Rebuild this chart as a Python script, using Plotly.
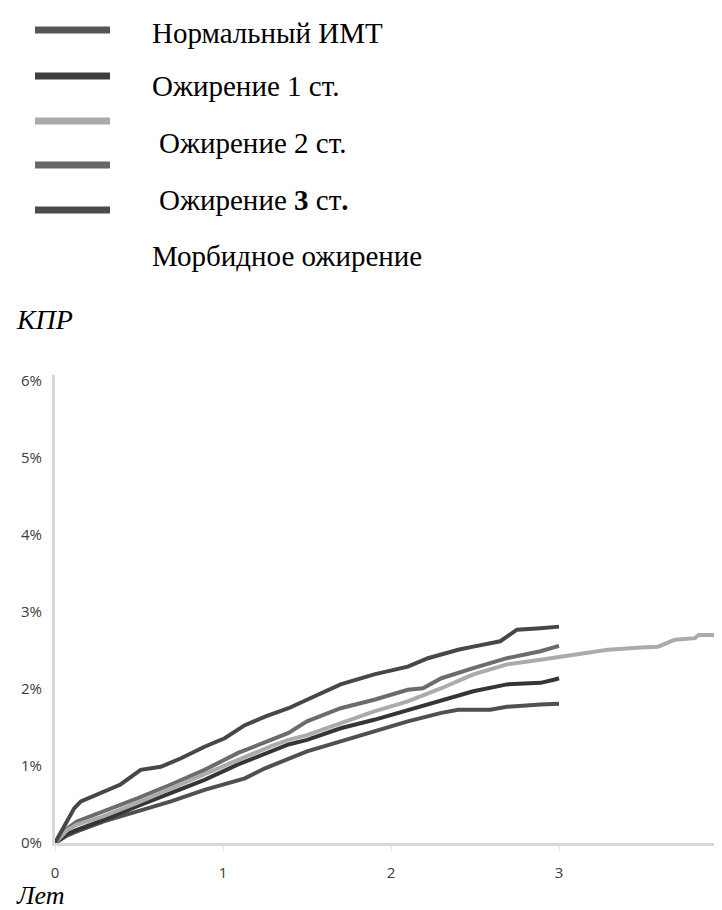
import plotly.graph_objects as go

# ---------------- data (years, cumulative incidence %) ----------------
series_names = ["Нормальный ИМТ", "Ожирение 1 ст.", "Ожирение 2 ст.", "Ожирение 3 ст.", "Морбидное ожирение"]

t_norm = [0, 0.074, 0.13, 0.29, 0.49, 0.69, 0.89, 1.01, 1.13, 1.25, 1.39, 1.50, 1.70, 1.90, 2.10, 2.30, 2.40, 2.59, 2.69, 2.89, 3.0]
p_norm = [0, 0.10, 0.15, 0.28, 0.41, 0.54, 0.69, 0.76, 0.84, 0.97, 1.10, 1.19, 1.32, 1.45, 1.58, 1.69, 1.73, 1.73, 1.77, 1.80, 1.81]

t_ob1 = [0, 0.074, 0.13, 0.29, 0.49, 0.69, 0.89, 1.09, 1.29, 1.39, 1.50, 1.70, 1.90, 2.10, 2.30, 2.49, 2.69, 2.89, 2.97, 3.0]
p_ob1 = [0, 0.12, 0.17, 0.30, 0.48, 0.65, 0.82, 1.02, 1.19, 1.28, 1.34, 1.49, 1.60, 1.73, 1.86, 1.97, 2.06, 2.08, 2.12, 2.14]

t_ob2 = [0, 0.074, 0.13, 0.29, 0.49, 0.69, 0.89, 1.09, 1.29, 1.39, 1.50, 1.70, 1.90, 2.10, 2.30, 2.49, 2.69, 2.89, 3.09, 3.29, 3.49, 3.59, 3.69, 3.81, 3.83, 4.0]
p_ob2 = [0, 0.17, 0.24, 0.35, 0.52, 0.71, 0.89, 1.08, 1.26, 1.34, 1.40, 1.56, 1.71, 1.84, 2.01, 2.19, 2.32, 2.38, 2.45, 2.51, 2.54, 2.55, 2.64, 2.66, 2.70, 2.70]

t_ob3 = [0, 0.074, 0.13, 0.29, 0.49, 0.69, 0.89, 1.09, 1.29, 1.39, 1.50, 1.70, 1.90, 2.10, 2.19, 2.30, 2.49, 2.69, 2.89, 3.0]
p_ob3 = [0, 0.19, 0.28, 0.41, 0.58, 0.76, 0.95, 1.17, 1.34, 1.43, 1.58, 1.75, 1.86, 1.99, 2.01, 2.14, 2.27, 2.40, 2.49, 2.56]

t_morb = [0, 0.04, 0.074, 0.114, 0.154, 0.29, 0.39, 0.51, 0.63, 0.75, 0.89, 1.01, 1.13, 1.25, 1.39, 1.50, 1.70, 1.90, 2.10, 2.22, 2.40, 2.49, 2.65, 2.69, 2.75, 2.89, 3.0]
p_morb = [0, 0.15, 0.28, 0.45, 0.54, 0.67, 0.76, 0.95, 0.99, 1.10, 1.25, 1.36, 1.53, 1.64, 1.75, 1.86, 2.06, 2.19, 2.29, 2.40, 2.51, 2.55, 2.62, 2.68, 2.77, 2.79, 2.81]

x_ticks = [0, 1, 2, 3, 4]
y_ticks = [0, 1, 2, 3, 4, 5, 6]
y_tick_labels = ["0%", "1%", "2%", "3%", "4%", "5%", "6%"]

line_colors = ["#505050", "#353535", "#ababab", "#6c6c6c", "#474747"]
swatch_colors = ["#555555", "#3e3e3e", "#aaaaaa", "#676767", "#4b4b4b"]

# ---------------- figure ----------------
W, H = 722, 910
ML, MR, MT, MB = 47, 0, 367, 75
PW, PH = W - ML - MR, H - MT - MB


def px(x):
    return (x - ML) / PW


def py(y):
    return (H - MB - y) / PH


fig = go.Figure()
xs = [t_norm, t_ob1, t_ob2, t_ob3, t_morb]
ys = [p_norm, p_ob1, p_ob2, p_ob3, p_morb]
order = [0, 1, 3, 2, 4]
for i in order:
    fig.add_trace(go.Scatter(x=xs[i], y=ys[i], mode="lines", name=series_names[i],
                             line=dict(color=line_colors[i], width=4), showlegend=False, cliponaxis=False))

# legend (manual: swatches and labels are not aligned in the original)
swatch_y = [22, 68, 113, 157, 202]
label_y = [25, 78, 135, 192, 248]
label_x = [142, 142, 149, 149, 142]
label_text = ["Нормальный ИМТ", "Ожирение 1 ст.", "Ожирение 2 ст.", "Ожирение <b>3</b> ст<b>.</b>", "Морбидное ожирение"]
shapes = []
for c, sy in zip(swatch_colors, swatch_y):
    shapes.append(dict(type="line", xref="paper", yref="paper", x0=px(27), x1=px(102), y0=py(sy), y1=py(sy),
                       line=dict(color=c, width=7)))
annotations = []
for t, lx, ly in zip(label_text, label_x, label_y):
    annotations.append(dict(text=t, xref="paper", yref="paper", x=px(lx), y=py(ly), xanchor="left", yanchor="middle",
                            showarrow=False, font=dict(family="Liberation Serif", size=29, color="#000000")))
annotations.append(dict(text="<i>КПР</i>", xref="paper", yref="paper", x=px(6), y=py(311), xanchor="left",
                        yanchor="middle", showarrow=False, font=dict(family="Liberation Serif", size=28, color="#000000")))
annotations.append(dict(text="<i>Лет</i>", xref="paper", yref="paper", x=px(6), y=py(904), xanchor="left",
                        yanchor="bottom", showarrow=False, font=dict(family="Liberation Serif", size=26, color="#000000")))

fig.update_layout(
    width=W, height=H,
    margin=dict(l=ML, r=MR, t=MT, b=MB, autoexpand=False),
    paper_bgcolor="white", plot_bgcolor="white",
    shapes=shapes, annotations=annotations,
    xaxis=dict(range=[0, PW / 168.0], tickvals=x_ticks, ticktext=[str(v) for v in x_ticks], automargin=False,
               showgrid=False, zeroline=False, showline=True, linecolor="#d9d9d9", linewidth=3,
               ticks="outside", ticklen=5, tickcolor="#e6e6e6", tickwidth=1, ticklabelstandoff=9,
               tickfont=dict(family="Open Sans", size=15, color="#3c3c3c")),
    yaxis=dict(range=[0, PH / 77.0], tickvals=y_ticks, ticktext=y_tick_labels, automargin=False,
               showgrid=False, zeroline=False, showline=True, linecolor="#d9d9d9", linewidth=3,
               ticks="", ticklabelstandoff=7,
               tickfont=dict(family="Open Sans", size=15, color="#3c3c3c")),
)

fig.write_html("out.html")
